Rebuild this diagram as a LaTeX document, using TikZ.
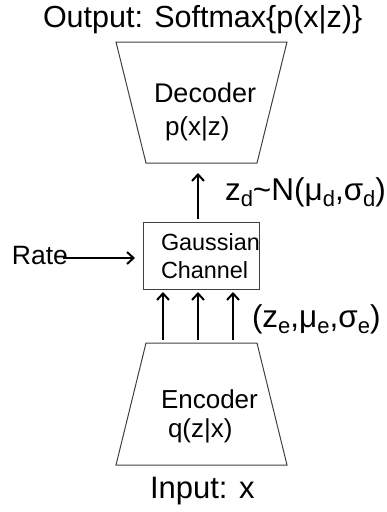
\documentclass[tikz,border=0pt]{standalone}
\usepackage{fontspec}
\setmainfont{Liberation Sans}
\usetikzlibrary{arrows.meta}
\newcommand{\mysub}[1]{\raisebox{-0.22em}{\fontsize{22}{24}\selectfont #1}}
\begin{document}
\begin{tikzpicture}[x=1pt,y=-1pt,
  arr/.style={line width=2.3pt,-{Straight Barb[length=6.5pt,width=12pt,line width=2pt]}},
  shapeline/.style={line width=1pt,draw=black!75},
  lbl/.style={anchor=base west,inner sep=0pt,outer sep=0pt,text=black}]
\useasboundingbox (0,0) rectangle (387,512);
% title
\node[lbl,font=\fontsize{30.5}{34}\selectfont] (title) at (43,27) {Output: Softmax\{p(x|z)\}};
% decoder
\coordinate (d1) at (116,42); \coordinate (d2) at (287,42);
\coordinate (d3) at (257,163); \coordinate (d4) at (146,163);
\draw[shapeline] (d1) -- (d2) -- (d3) -- (d4) -- cycle;
\node[lbl,font=\fontsize{27}{30}\selectfont] (dec) at (154,102) {Decoder};
\node[lbl,font=\fontsize{26}{30}\selectfont] (decp) at (165,135) {p(x|z)};
% channel
\node[draw=black!75,line width=1pt,minimum width=116pt,minimum height=67pt,inner sep=0pt] (ch) at (201,255.5) {};
\node[lbl,font=\fontsize{23.4}{26}\selectfont] (g1) at (161,250) {Gaussian};
\node[lbl,font=\fontsize{23.4}{26}\selectfont] (g2) at (161,278) {Channel};
% rate
\node[lbl,font=\fontsize{26.5}{30}\selectfont] (rate) at (12,264) {Rate};
\coordinate (rs) at (63,258);
\coordinate (re) at (135,258);
\draw[arr] (rs) -- (re);
% arrow channel -> decoder
\coordinate (dt) at (198,173);
\coordinate (cs) at (198,219);
\draw[arr] (cs) -- (dt);
\node[lbl,font=\fontsize{31.5}{34}\selectfont] (zd) at (225,200) {z\mysub{d}\textasciitilde N(μ\mysub{d},σ\mysub{d})};
% encoder
\coordinate (e1) at (146,343); \coordinate (e2) at (257,343);
\coordinate (e3) at (287,465); \coordinate (e4) at (116,465);
\draw[shapeline] (e1) -- (e2) -- (e3) -- (e4) -- cycle;
\node[lbl,font=\fontsize{26}{30}\selectfont] (enc) at (161,408) {Encoder};
\node[lbl,font=\fontsize{26}{30}\selectfont] (encq) at (168,437) {q(z|x)};
% three arrows
\foreach \xx/\nm in {163/a,198/b,233/c} {
  \coordinate (\nm s) at (\xx,340);
  \coordinate (\nm e) at (\xx,292);
  \draw[arr] (\nm s) -- (\nm e);
}
\node[lbl,font=\fontsize{31.5}{34}\selectfont] (ze) at (252,327) {(z\mysub{e},μ\mysub{e},σ\mysub{e})};
% input
\node[lbl,font=\fontsize{31}{34}\selectfont] (inp) at (150,498) {Input: x};
\end{tikzpicture}
\end{document}
